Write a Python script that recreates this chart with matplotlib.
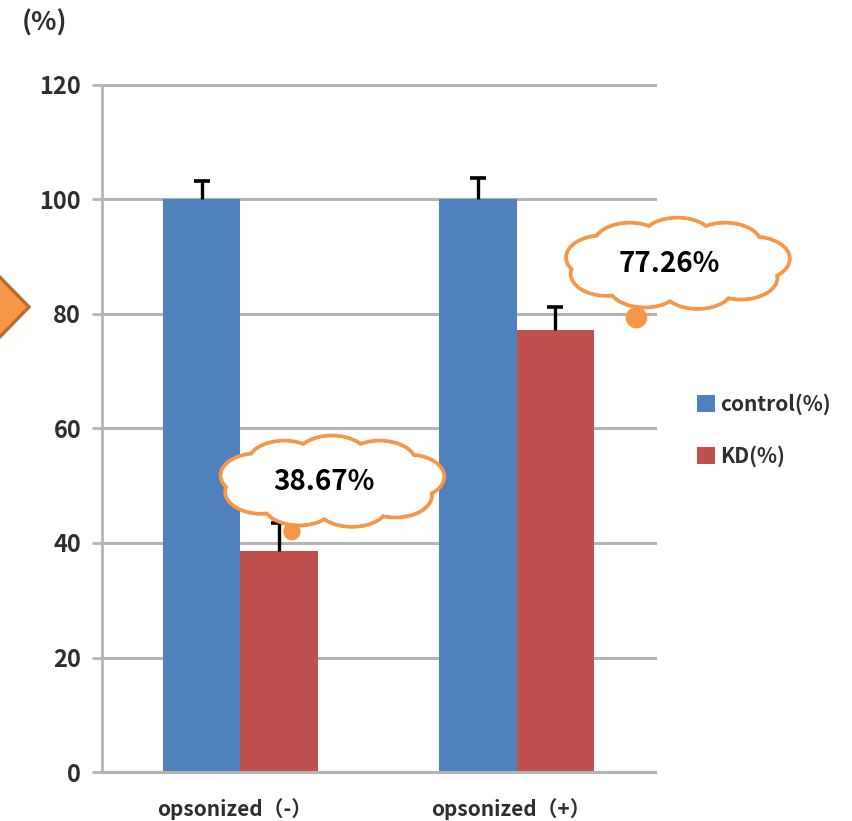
import numpy as np
import matplotlib
matplotlib.use('Agg')
import matplotlib.pyplot as plt
from matplotlib.patches import Ellipse, Polygon, Circle
from matplotlib.transforms import IdentityTransform, ScaledTranslation

# 数据
groups = ['opsonized（-）', 'opsonized（+）']
control = [100, 100]
control_err = [3.3, 3.8]
kd = [38.67, 77.26]
kd_err = [4.8, 3.9]
y_ticks = [0, 20, 40, 60, 80, 100, 120]

BLUE = '#4F81BD'
RED = '#C0504D'
ORANGE = '#F79646'
GRID = '#B4B4B4'
TEXT = '#2E2E2E'

plt.rcParams['font.family'] = ['Noto Sans CJK JP', 'DejaVu Sans']

W_PX, H_PX = 852, 821
fig = plt.figure(figsize=(W_PX / 100, H_PX / 100), dpi=100)
ax = fig.add_axes([102 / W_PX, 1 - 772 / H_PX, (655 - 102) / W_PX, (772 - 85) / H_PX])

x = np.arange(len(groups))
w = 0.28
b1 = ax.bar(x - w / 2, control, w, color=BLUE, label='control(%)', zorder=2)
b2 = ax.bar(x + w / 2, kd, w, color=RED, label='KD(%)', zorder=2)

# 只画向上的误差线，顶端加横帽
for xs, vals, errs in [(x - w / 2, control, control_err), (x + w / 2, kd, kd_err)]:
    tops = np.array(vals) + np.array(errs)
    ax.errorbar(xs, vals, yerr=[np.zeros(len(xs)), errs], fmt='none',
                ecolor='black', elinewidth=2.4, capsize=0, zorder=3)
    ax.plot(xs, tops, ls='none', marker='_', ms=11, mew=2.6, color='black', zorder=3)

ax.set_xlim(-0.5, 1.5)
ax.set_ylim(0, 120)
ax.set_yticks(y_ticks)
ax.set_xticks(x)
ax.set_xticklabels(groups)
ax.yaxis.grid(True, color=GRID, lw=2.2)
ax.set_axisbelow(True)
for line in ax.get_ygridlines():
    line.set_clip_on(False)
for s in ['top', 'right']:
    ax.spines[s].set_visible(False)
ax.spines['left'].set_color(GRID)
ax.spines['left'].set_linewidth(2)
ax.spines['bottom'].set_color(GRID)
ax.spines['bottom'].set_linewidth(2.2)
ax.tick_params(axis='y', length=7, width=2, color=GRID, pad=8, labelsize=17, labelcolor=TEXT)
ax.tick_params(axis='x', length=0, pad=19, labelsize=15, labelcolor=TEXT)
for lab in ax.get_xticklabels() + ax.get_yticklabels():
    lab.set_fontweight('bold')
# x轴标签稍微左移
shift = ScaledTranslation(-6 / 100, 0, fig.dpi_scale_trans)
for lab in ax.get_xticklabels():
    lab.set_transform(lab.get_transform() + shift)

fig.text(44 / W_PX, 1 - 23 / H_PX, '(%)', ha='center', va='center',
         fontsize=19, fontweight='bold', color=TEXT)

fig.legend(handles=[b1, b2], loc='center left', bbox_to_anchor=(697 / W_PX, 1 - 430 / H_PX),
           frameon=False, prop={'size': 15, 'weight': 'bold'}, labelcolor=TEXT,
           handlelength=0.85, handleheight=0.85, handletextpad=0.25, labelspacing=1.45,
           borderpad=0, borderaxespad=0)

# 左侧箭头
ident = IdentityTransform()
fig.add_artist(Polygon([(-10, H_PX - 267), (29, H_PX - 307), (-10, H_PX - 347)],
                       closed=True, transform=ident, fc=ORANGE, ec='#B86B2A', lw=2.4, zorder=4))


def draw_cloud(cx, cy, cw, ch, z=5):
    """云朵形状的标注框（像素坐标）"""
    a, b = cw / 2, ch / 2
    angles = np.deg2rad([90, 128, 165, 205, 245, 285, 325, 12, 52])
    lobes = [(cx + 0.68 * a * np.cos(t), cy + 0.52 * b * np.sin(t)) for t in angles]
    rx, ry = 0.32 * a, 0.48 * b
    for px, py in lobes:
        fig.add_artist(Ellipse((px, py), 2 * rx, 2 * ry, transform=ident,
                               fc='white', ec=ORANGE, lw=2.8, zorder=z))
    for px, py in lobes:
        fig.add_artist(Ellipse((px, py), 2 * rx - 4, 2 * ry - 4, transform=ident,
                               fc='white', ec='none', zorder=z + 0.1))
    fig.add_artist(Ellipse((cx, cy), 1.5 * a, 1.2 * b, transform=ident,
                           fc='white', ec='none', zorder=z + 0.1))


# 云朵偏移：(云中心dx, dy, 尾巴dx, dy, 尾巴半径)
cloud_offsets = [(53, 69, 13, 19, 8), (122, 66, 81, 12, 10)]
fig.canvas.draw()
for i, val in enumerate(kd):
    px, py = ax.transData.transform((x[i] + w / 2, val))
    dx, dy, tx, ty, tr = cloud_offsets[i]
    fig.add_artist(Circle((px + tx, py + ty), tr, transform=ident,
                          fc=ORANGE, ec=ORANGE, lw=1, zorder=4.9))
    draw_cloud(px + dx, py + dy, 228, 92)
    fig.text((px + dx - 8) / W_PX, (py + dy) / H_PX, f'{val:.2f}%', ha='center', va='center',
             fontsize=20, fontweight='bold', color='black', zorder=7)

fig.savefig('out.png', dpi=100)
